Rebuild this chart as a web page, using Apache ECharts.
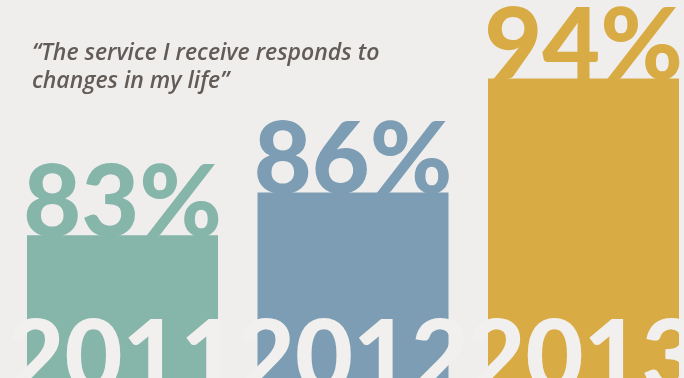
<!DOCTYPE html>
<html>
<head>
<meta charset="utf-8">
<script src="https://cdn.jsdelivr.net/npm/echarts@6/dist/echarts.min.js"></script>
<style>
html,body{margin:0;padding:0;background:#efeeec;}
#chart{width:684px;height:378px;}
</style>
</head>
<body>
<div id="chart"></div>
<script>
var categories = ['2011', '2012', '2013'];
var values = [83, 86, 94];
var barColors = ['#86b5a9', '#7c9db3', '#d9ab45'];
var quote = '\u201CThe service I receive responds to\nchanges in my life\u201D';

var chart = echarts.init(document.getElementById('chart'));
chart.setOption({
  backgroundColor: '#efeeec',
  animation: false,
  title: {
    text: quote,
    left: 27,
    top: 34,
    textStyle: {
      fontFamily: 'Open Sans',
      fontStyle: 'italic',
      fontWeight: 600,
      fontSize: 23,
      lineHeight: 28,
      color: '#625b57'
    }
  },
  grid: { left: 7.25, right: -14.75, top: 0, bottom: 0, containLabel: false, outerBoundsMode: 'none' },
  xAxis: {
    type: 'category',
    data: categories,
    z: 10,
    axisLine: { show: false },
    axisTick: { show: false },
    axisLabel: {
      inside: true,
      interval: 0,
      hideOverlap: false,
      margin: 69,
      verticalAlign: 'top',
      fontFamily: 'Lato',
      fontWeight: 900,
      fontSize: 100,
      lineHeight: 100,
      color: '#f1f0ee'
    }
  },
  yAxis: {
    type: 'value',
    min: 73,
    max: 99.5,
    show: false,
    splitLine: { show: false }
  },
  series: [{
    type: 'bar',
    barWidth: 191,
    data: values.map(function (v, i) {
      return {
        value: v,
        itemStyle: { color: barColors[i] },
        label: { color: barColors[i] }
      };
    }),
    label: {
      show: true,
      position: 'top',
      distance: -18,
      formatter: '{c}%',
      fontFamily: 'Lato',
      fontWeight: 900,
      fontSize: 100,
      lineHeight: 100
    }
  }]
});
</script>
</body>
</html>
